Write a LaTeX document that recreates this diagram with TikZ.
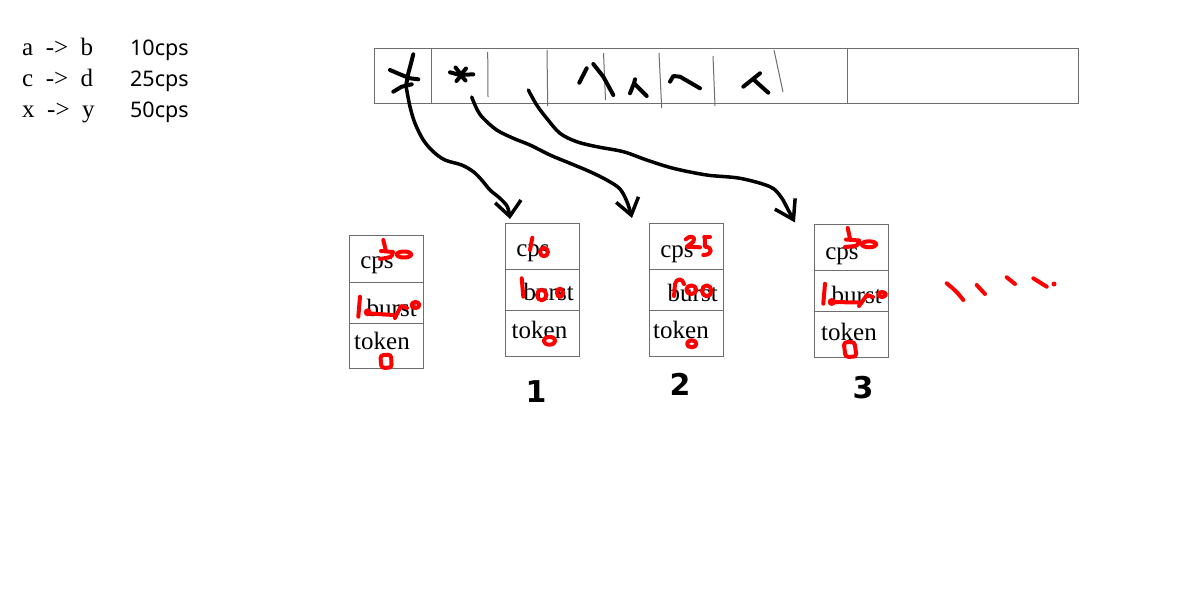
\documentclass[tikz,border=0pt]{standalone}
\usepackage{fontspec}
\setmainfont{Liberation Serif}
\newfontfamily\legendsans{Noto Sans}
\newfontfamily\numfont{DejaVu Sans}
\usetikzlibrary{arrows.meta}
\definecolor{boxgray}{RGB}{110,110,110}
\definecolor{inkred}{RGB}{255,0,0}

\begin{document}
\begin{tikzpicture}[x=1pt,y=-1pt,
field/.style={font=\fontsize{25}{30}\selectfont,inner sep=0pt,anchor=base},
legend/.style={font=\fontsize{25}{30}\selectfont,inner sep=0pt,anchor=base west},
rate/.style={font=\legendsans\fontsize{21.5}{26}\selectfont,inner sep=0pt,anchor=base west},
slot/.style={draw=boxgray,line width=1.2pt,minimum width=74pt,minimum height=133pt,inner sep=0pt,anchor=north west},
queue/.style={draw=boxgray,line width=1.2pt,minimum width=704pt,minimum height=55pt,inner sep=0pt,anchor=north west},
divline/.style={draw=boxgray,line width=1pt},
ink/.style={line width=4pt,line cap=round,line join=round},
redink/.style={draw=inkred,line width=4pt,line cap=round,line join=round},
handarrow/.style={line width=3.5pt,line cap=round,line join=round},
slotnum/.style={font=\numfont\bfseries\fontsize{30}{36}\selectfont,inner sep=0pt,anchor=base}]

\fill[white] (0,0) rectangle (1178,600);
\useasboundingbox (0,0) rectangle (1178,600);

% legend
\node[legend] (lg1) at (22,55) {a~~->~~b};
\node[legend] (lg2) at (22,86.5) {c~~->~~d};
\node[legend] (lg3) at (22,117.5) {x~~->~~y};
\node[rate] (rt1) at (130,55) {10cps};
\node[rate] (rt2) at (130,86.5) {25cps};
\node[rate] (rt3) at (130,117.5) {50cps};

% request queue
\node[queue] (bar) at (374,48) {};
\draw[divline] (431,48) -- (431,103);
\draw[divline] (487.7,52) -- (488,97);
\draw[divline] (547,50) -- (547.7,106);
\draw[divline] (603.5,53) -- (605.5,100);
\draw[divline] (659,53) -- (661.7,108);
\draw[divline] (713,56) -- (715,106);
\draw[divline] (774,50) -- (783,92);
\draw[divline] (847,48) -- (847,103);

% marks in the queue
\draw[ink] (413.3,54.3) -- (411,63.3) -- (408.3,73.3) -- (406,86);
\draw[ink] (390,70) -- (400,74.3) -- (410,78.3) -- (418.3,79.3);
\draw[ink] (393.3,91.7) -- (401.7,86.7) -- (411.7,84.3);
\draw[ink] (450,72.3) -- (460,75) -- (473.3,74.3);
\draw[ink] (455.5,67.5) -- (461,74.5) -- (466,68.5);
\draw[ink] (456.5,81) -- (461,75.5) -- (465.5,80.5);
\draw[ink] (579.3,82.7) -- (586.7,68.3);
\draw[ink] (593.3,64) -- (603.3,76.7) -- (613.3,95);
\draw[ink] (630,93.3) -- (634,83.3) -- (646.7,96);
\draw[ink] (634,83.3) -- (635,79.3);
\draw[ink] (670,81.7) -- (673.3,76) -- (680,76.7) -- (700,88.3);
\draw[ink] (743.3,86.7) -- (760,73.3);
\draw[ink] (753.3,79.3) -- (768.3,92.7);

% buckets
\node[slot] (box0) at (349,235) {};
\draw[divline] (349,282) -- (423,282);
\draw[divline] (349,323) -- (423,323);
\node[field] (cps0) at (377,268.3) {cps};
\node[field] (burst0) at (391.7,316) {burst};
\node[field] (token0) at (382,349) {token};

\node[slot] (box1) at (505,223) {};
\draw[divline] (505,269.3) -- (579,269.3);
\draw[divline] (505,310.7) -- (579,310.7);
\node[field] (cps1) at (533,256.7) {cps};
\node[field] (burst1) at (548.7,300.5) {burst};
\node[field] (token1) at (539.5,338) {token};

\node[slot] (box2) at (649,223) {};
\draw[divline] (649,269.3) -- (723,269.3);
\draw[divline] (649,310) -- (723,310);
\node[field] (cps2) at (677,257.3) {cps};
\node[field] (burst2) at (692.7,301.7) {burst};
\node[field] (token2) at (681,338.3) {token};

\node[slot] (box3) at (814,224) {};
\draw[divline] (814,270.7) -- (888,270.7);
\draw[divline] (814,311) -- (888,311);
\node[field] (cps3) at (842,259.3) {cps};
\node[field] (burst3) at (856.7,303.7) {burst};
\node[field] (token3) at (849,340.3) {token};

\node[slotnum] (n1) at (536,402) {1};
\node[slotnum] (n2) at (680,395) {2};
\node[slotnum] (n3) at (863,398) {3};

% arrows
\coordinate (s1) at (406,86);
\coordinate (s2) at (471.7,97);
\coordinate (s3) at (528.3,90);
\coordinate (t1) at (510,219);
\coordinate (t2) at (632,218);
\coordinate (t3) at (795,222.5);

\draw[handarrow,-{Straight Barb[length=15pt,width=26pt]}] plot[smooth,tension=0.55] coordinates {(s1) (410,106.7) (415,123.3) (423.3,140) (433.3,151.7) (445,160) (461.7,165) (473.3,171.7) (481.7,180) (490,190) (500,198.3) (507.5,207) (t1)};
\draw[handarrow,-{Straight Barb[length=16pt,width=23pt]}] plot[smooth,tension=0.55] coordinates {(s2) (477.3,110) (483.3,118.3) (496.7,130) (513.3,138.3) (530,145) (550,155) (570,163.3) (590,171.7) (606.7,180) (620,189) (627.5,203) (t2)};
\draw[handarrow,-{Straight Barb[length=18pt,width=23pt]}] plot[smooth,tension=0.55] coordinates {(s3) (536.7,105) (546.7,118.3) (560,133.3) (576.7,141.7) (596.7,146.7) (623.3,151.7) (646.7,160) (673.3,168.3) (706.7,175) (740,178.3) (770,186.7) (781,197) (788,209.5) (t3)};

% red notes, bucket 0
\draw[redink] (383.3,240) -- (385.7,250);
\draw[redink] (381,251) -- (393,252) .. controls (392,257) .. (380,259);
\draw[redink] (404,254.5) ellipse [x radius=7.2pt,y radius=3pt];
\draw[redink] (360,296.7) -- (358.3,316.7);
\fill[inkred] (367.7,312.3) circle [radius=4pt];
\draw[redink] (367.7,313.3) -- (393.3,315);
\draw[redink] (395,318) -- (401,306) -- (407,308);
\draw[redink] (415.5,305) ellipse [x radius=3.9pt,y radius=3pt];
\draw[redink,rounded corners=3pt] (380.3,355.3) -- (381.5,368) -- (391.7,367.5) -- (391,354.5) -- cycle;

% red notes, bucket 1
\draw[redink] (532.3,237.7) -- (530,250);
\draw[redink] (544,252) ellipse [x radius=3.9pt,y radius=4.3pt];
\draw[redink] (521.7,278.3) -- (523.3,296.7);
\draw[redink] (541.7,295) ellipse [x radius=4.7pt,y radius=5.3pt];
\draw[redink] (560,292.8) ellipse [x radius=3pt,y radius=4.2pt];
\draw[redink] (549.5,340.8) ellipse [x radius=5.8pt,y radius=3.9pt];

% red notes, bucket 2
\draw[redink] (685.7,239.3) .. controls (690,235) and (696,236) .. (693.3,241.7) -- (686.7,246.7) -- (700,247.3);
\draw[redink] (704.3,237) -- (710,237);
\draw[redink] (704.7,237) -- (705,246.7) .. controls (713,247) and (713,255) .. (703.3,255);
\draw[redink] (674,296) -- (675,284) .. controls (676,278) and (683,278) .. (684,284);
\draw[redink] (691.3,289.7) ellipse [x radius=5pt,y radius=4.3pt];
\draw[redink] (706.7,290.8) ellipse [x radius=4.7pt,y radius=5.5pt];
\draw[redink] (691.7,343.8) ellipse [x radius=4.7pt,y radius=3.5pt];

% red notes, bucket 3
\draw[redink] (847.7,228) -- (850,238.7);
\draw[redink] (846,239.5) -- (859.3,240.5) .. controls (858,246) .. (845,247);
\draw[redink] (869,244.3) ellipse [x radius=7.2pt,y radius=3pt];
\draw[redink] (825,283.7) -- (823.3,303.7);
\fill[inkred] (831.7,302) circle [radius=4pt];
\draw[redink] (831.7,302) -- (858,302.5);
\draw[redink] (859,306) -- (867,295) -- (873,297);
\draw[redink] (882,294.5) ellipse [x radius=3.8pt,y radius=2.5pt];
\draw[redink,rounded corners=3pt] (843.7,342.3) -- (845.5,357) -- (856.5,356.5) -- (854.5,342) -- cycle;

% more buckets
\draw[redink] (946.7,283.3) .. controls (956,291) .. (963.3,300);
\draw[redink] (976.7,285) -- (985,294);
\draw[redink] (1006.7,277.3) -- (1015,284);
\draw[redink] (1033.3,278.3) -- (1046.7,286.7);
\fill[inkred] (1054,284) circle [radius=2.5pt];

\end{tikzpicture}
\end{document}
